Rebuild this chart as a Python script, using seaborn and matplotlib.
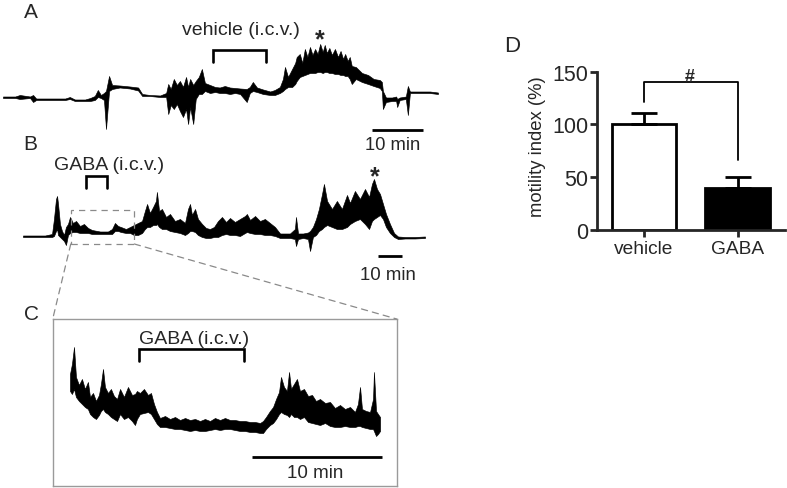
import matplotlib
matplotlib.use("Agg")
import matplotlib.pyplot as plt
from matplotlib.patches import ConnectionPatch, Rectangle
import pandas as pd
import seaborn as sns

# ------------------------------------------------------------------ data
# Panel A: vehicle trace, time (min) with upper / lower envelope (a.u.)
a_time = [0.0, 2.4, 3.3, 5.3, 5.9, 6.5, 9.2, 12.2, 13.1, 14.1, 16.1, 17.1, 18.0, 18.6, 19.2,
          19.8, 20.2, 20.8, 21.4, 22.9, 24.9, 26.5, 27.3, 28.8, 30.8, 32.0, 32.4, 32.9, 33.5,
          34.1, 34.7, 35.3, 35.9, 36.3, 36.7, 37.3, 37.8, 38.4, 39.0, 39.6, 40.6, 41.6, 42.5,
          43.5, 44.5, 45.5, 46.5, 47.8, 48.4, 49.0, 49.8, 51.0, 52.4, 53.3, 54.3, 54.9, 55.3,
          55.9, 56.7, 57.3, 57.6, 58.2, 58.7, 59.2, 59.7, 60.2, 60.7, 61.2, 61.7, 62.2, 62.7,
          63.1, 63.5, 64.0, 64.5, 65.1, 65.7, 66.2, 66.7, 67.1, 67.6, 68.0, 68.4, 69.2, 70.4,
          71.6, 72.7, 73.9, 74.3, 74.5, 75.1, 76.3, 77.1, 77.3, 77.8, 79.0, 79.4, 79.8, 81.8,
          83.7, 85.3]
a_upper = [2.5, 2.5, 4, 2.5, 4, 0.5, 0.5, 0.5, 2, -0.5, -0.5, 1, 3, 9, 4,
           6, 8, 23, 14, 13.5, 12.5, 11.5, 5, 4, 3.5, 6, 15, 10, 20,
           14, 18, 12, 22, 12, 20, 14, 18, 22, 30, 16, 14, 12, 11.5,
           13, 11.5, 11, 10.5, 10, 12, 17, 11.5, 9.5, 7.5, 9, 12, 20, 32,
           22, 30, 36, 42, 45, 36, 50, 42, 52, 44, 50, 45, 55, 47,
           54, 46, 51, 44, 50, 42, 48, 40, 45, 38, 42, 33, 32, 26,
           24, 20, 19, 17, 8, 1.5, 1.5, 2.5, 0, 1.5, 2.5, 13, 7.5, 7.5,
           7.5, 6.5]
a_lower = [1, 1, 0, 1, -3, -1, -1, -1, 0, -2, -2, -2, -1, 2, 1,
           -1, -30, 8, 10, 11.5, 10.5, 8.5, 3, 3, 2, 2, -15, -6, -10,
           -5, -12, -18, -10, -25, -8, -25, 0, 5, 5, 8, 6, 7, 6,
           6, 5, 6, 5, -3, 6, 8, 7, 5, 4, 4, 6, 8, 10,
           12, 12, 15, 18, 22, 23, 24, 25, 26, 26, 26, 27, 27, 26,
           27, 27, 26, 26, 25, 25, 24, 24, 23, 23, 20, 15, 20, 17,
           15, 13, 11, 8, -10, -3, -2, -2, -8, -1, 0, -16, 6, 6,
           6, 5]

# Panel B: GABA trace
b_time = [0.0, 5.0, 9.2, 12.1, 12.9, 13.75, 14.2, 14.6, 15.4, 16.25, 17.1, 17.9, 18.75, 19.6,
          20.8, 22.1, 23.75, 25.4, 27.1, 28.75, 32.1, 35.4, 37.1, 38.3, 39.6, 40.8, 42.9, 44.6,
          46.25, 47.9, 49.6, 50.8, 51.7, 52.9, 54.2, 55.4, 55.8, 56.7, 57.9, 59.6, 61.25, 63.3,
          65.4, 67.5, 68.75, 69.6, 70.4, 71.7, 72.9, 74.6, 76.25, 77.9, 79.6, 81.25, 82.9, 84.6,
          86.25, 88.3, 90.4, 92.5, 93.3, 94.6, 96.7, 98.75, 100.8, 102.9, 105.0, 107.1, 109.2,
          111.25, 113.3, 113.75, 114.6, 116.7, 118.75, 119.6, 120.8, 122.1, 123.3, 124.6, 125.4,
          126.7, 128.75, 130.8, 132.9, 135.0, 136.25, 138.3, 140.4, 142.5, 144.2, 145.4, 146.25,
          147.5, 148.75, 150.0, 151.25, 152.9, 154.6, 156.25, 159.2, 163.3, 167.5]
b_upper = [3.5, 3.5, 3.5, 5, 20, 40, 43, 35, 15, 8, 4, 12, 15, 22,
           16, 18, 13, 15, 11, 9, 7.5, 7.5, 10, 16, 13, 12, 10, 12,
           14, 16, 18, 28, 35, 26, 32, 38, 47, 28, 30, 22, 25, 18,
           20, 16, 30, 35, 24, 30, 20, 15, 11, 10, 12, 18, 22, 17,
           21, 17, 20, 23, 25, 19, 23, 18, 20, 16, 12, 5.5, 5.5,
           5.5, 10, 22, 5.5, 5.5, 6.5, 8, 12, 20, 30, 45, 55,
           38, 30, 38, 30, 44, 36, 48, 40, 50, 42, 55, 60,
           50, 45, 35, 25, 15, 6, 2.5, 2, 2, 2.5]
b_lower = [2, 2, 2, 2, 3, 8, 10, 4, 2, 0, -2, -6, 4, 6,
           7, 7, 6, 6, 6, 5, 5, 5, 5, 8, 8, 7, 6, 6,
           4, 4, 6, 10, 12, 12, 14, 14, 15, 12, 10, 10, 8, 7,
           6, 4, 6, 8, 8, 7, 4, 2, 1, 1, 2, 2, 4, 5,
           4, 4, 3, 6, 7, 6, 5, 5, 4, 4, 3, 1, 1,
           1, 0, -7, 0, 1, 0, -12, 2, 4, 8, 10, 12,
           14, 12, 10, 10, 12, 15, 18, 20, 15, 10, 18, 20,
           22, 24, 20, 12, 6, 2, 0, 0.5, 0.5, 1]

# Panel C: expanded GABA trace (boxed region of B)
c_time = [0.00, 0.15, 0.31, 0.46, 0.69, 0.92, 1.15, 1.38, 1.54, 1.77, 2.00, 2.23, 2.38, 2.54,
          2.69, 2.92, 3.15, 3.38, 3.62, 3.85, 4.15, 4.46, 4.77, 5.00, 5.15, 5.38, 5.69, 6.00,
          6.23, 6.46, 6.69, 6.92, 7.31, 7.69, 8.08, 8.46, 8.85, 9.23, 9.62, 10.00, 10.38, 10.77,
          11.15, 11.54, 11.92, 12.31, 12.69, 13.08, 13.46, 13.85, 14.23, 14.62, 14.85, 15.08,
          15.38, 15.62, 15.85, 16.08, 16.23, 16.46, 16.69, 16.85, 17.00, 17.23, 17.46, 17.69,
          18.00, 18.31, 18.62, 18.92, 19.23, 19.62, 20.00, 20.38, 20.77, 21.15, 21.54, 21.92,
          22.15, 22.31, 22.46, 22.77, 23.08, 23.31, 23.38, 23.54, 23.69, 23.85]
c_upper = [55, 65, 82, 52, 44, 50, 40, 47, 32, 36, 28, 34, 45, 60,
           42, 36, 40, 33, 30, 40, 32, 42, 34, 35, 38, 36, 40, 34,
           36, 25, 17, 11, 13, 10, 12, 9, 11, 9, 10, 8, 10, 8,
           11, 9, 11, 9, 9, 8, 8, 7, 7, 6, 8, 12,
           18, 22, 30, 37, 52, 42, 38, 57, 40, 45, 50, 38,
           40, 33, 34, 28, 30, 26, 27, 21, 24, 20, 22, 17,
           25, 42, 20, 18, 17, 30, 57, 18, 15, 12]
c_lower = [38, 35, 40, 32, 28, 25, 22, 20, 15, 12, 10, 14, 18, 20,
           17, 15, 12, 10, 8, 15, 10, 12, 8, 4, 10, 15, 16, 17,
           15, 10, 5, 2, 2, 1, 0, 0, -1, -2, -1, -2, -2, -1,
           0, -1, 0, 0, -1, -2, -2, -3, -3, -4, -4, 0,
           4, 6, 10, 15, 17, 15, 14, 12, 15, 12, 12, 10,
           12, 7, 6, 5, 4, 6, 3, 2, 2, 3, 2, 2,
           3, 3, 2, 1, 0, 0, -2, -7, -5, -2]

# Panel D: motility index
groups = ["vehicle", "GABA"]
means = [100, 40]
sems = [10.5, 10]
bar_colors = ["white", "black"]
yticks = [0, 50, 100, 150]

# injection windows (min) and scale bars (min)
a_inj = (41.2, 51.6)
b_inj = (26.4, 35.1)
c_inj = (5.3, 13.4)
zoom_window = (19.9, 46.4)
scale_len = 10

# ------------------------------------------------------------------ style
sns.set_style("white")
plt.rcParams["font.family"] = ["Liberation Sans", "DejaVu Sans"]

W, H = 787, 489
fig = plt.figure(figsize=(W / 100, H / 100), dpi=100)


def px_axes(x0, y0, x1, y1):
    return fig.add_axes([x0 / W, 1 - y1 / H, (x1 - x0) / W, (y1 - y0) / H])


def draw_trace(ax, t, up, lo):
    ax.fill_between(t, lo, up, color="black", edgecolor="black", linewidth=0.45)


def bracket(ax, x0, x1, top, bottom, lw=1.9):
    ax.plot([x0, x0, x1, x1], [bottom, top, top, bottom], color="black",
            lw=lw, solid_joinstyle="miter", clip_on=False)


def scalebar(ax, x0, y):
    ax.plot([x0, x0 + scale_len], [y, y], color="black", lw=2.0,
            solid_capstyle="butt", clip_on=False)


TXT = 14

# ---------------- Panel A
axa = px_axes(3, 20, 440, 155)
draw_trace(axa, a_time, a_upper, a_lower)
axa.set_xlim(0, 85.7)
axa.set_ylim(-55, 80)
axa.axis("off")
bracket(axa, a_inj[0], a_inj[1], 49.3, 37)
axa.text(46.7, 69.3, "vehicle (i.c.v.)", ha="center", va="center", fontsize=TXT)
axa.text(62.2, 53, "*", ha="center", va="baseline", fontsize=18, fontweight="bold")
scalebar(axa, 72.4, -30.7)
axa.text(76.5, -50, "10 min", ha="center", va="baseline", fontsize=13.2, clip_on=False)

# ---------------- Panel B
axb = px_axes(23, 155, 425, 285)
draw_trace(axb, b_time, b_upper, b_lower)
axb.set_xlim(0, 167.5)
axb.set_ylim(-45, 85)
axb.axis("off")
bracket(axb, b_inj[0], b_inj[1], 63.3, 50.7)
axb.text(35.8, 74.5, "GABA (i.c.v.)", ha="center", va="center", fontsize=TXT)
axb.text(146.7, 56, "*", ha="center", va="baseline", fontsize=18, fontweight="bold")
scalebar(axb, 147.9, -17)
axb.text(151.9, -40, "10 min", ha="center", va="baseline", fontsize=13.4, clip_on=False)
axb.add_patch(Rectangle((zoom_window[0], -5), zoom_window[1] - zoom_window[0], 34.3,
                        fill=False, edgecolor="#8a8a8a", lw=0.9, ls=(0, (5, 4))))

# ---------------- Panel C
axc = px_axes(52.7, 320, 396.7, 487)
draw_trace(axc, c_time, c_upper, c_lower)
axc.set_xlim(-1.33, 25.13)
axc.set_ylim(-57, 110)
axc.set_xticks([])
axc.set_yticks([])
for sp in axc.spines.values():
    sp.set_visible(True)
    sp.set_color("#9a9a9a")
    sp.set_linewidth(1.0)
bracket(axc, c_inj[0], c_inj[1], 80, 68)
axc.text(9.54, 90.5, "GABA (i.c.v.)", ha="center", va="center", fontsize=TXT)
scalebar(axc, 14.0, -28)
axc.text(18.85, -48, "10 min", ha="center", va="baseline", fontsize=13.6)

for xa, xb in [((zoom_window[0], -5), (0, 1)), ((zoom_window[1], -5), (1, 1))]:
    con = ConnectionPatch(xyA=xa, coordsA=axb.transData, xyB=xb, coordsB=axc.transAxes,
                          color="#8a8a8a", lw=0.9, ls=(0, (5, 4)))
    fig.add_artist(con)

# ---------------- Panel D
axd = px_axes(596.7, 72.7, 785, 231)
df = pd.DataFrame({"group": groups, "value": means})
sns.barplot(data=df, x="group", y="value", hue="group", palette=bar_colors,
            edgecolor="black", linewidth=2.0, width=0.69, legend=False, ax=axd,
            saturation=1)
axd.errorbar(x=[0, 1], y=means, yerr=[[0, 0], sems], fmt="none", ecolor="black",
             elinewidth=2.0, capsize=9.7, capthick=2.0, zorder=5)
axd.set_ylim(0, 150)
axd.set_xlim(-0.507, 1.507)
axd.set_yticks(yticks)
axd.set_xlabel("")
axd.set_ylabel("motility index (%)", fontsize=13.3)
axd.yaxis.set_label_coords(-0.27, 0.53)
sns.despine(ax=axd)
for sp in ["left", "bottom"]:
    axd.spines[sp].set_linewidth(2.0)
axd.tick_params(axis="y", labelsize=15.5, length=5, width=2, pad=1, direction="out", left=True)
axd.tick_params(axis="x", labelsize=13.8, length=5, width=2, pad=2, direction="out", bottom=True)
axd.plot([0, 0, 1, 1], [121, 140, 140, 66.3], color="black", lw=1.3, clip_on=False)
axd.text(0.49, 141.5, "#", ha="center", va="baseline", fontsize=13, fontweight="bold")

# ---------------- panel letters
for lab, x, y, fs in [("A", 30.5, 18.3, 15), ("B", 30, 150, 15),
                      ("C", 31.5, 320, 15), ("D", 512.5, 51.7, 16)]:
    fig.text(x / W, 1 - y / H, lab, ha="center", va="baseline", fontsize=fs)

fig.savefig("out.png", dpi=100)
